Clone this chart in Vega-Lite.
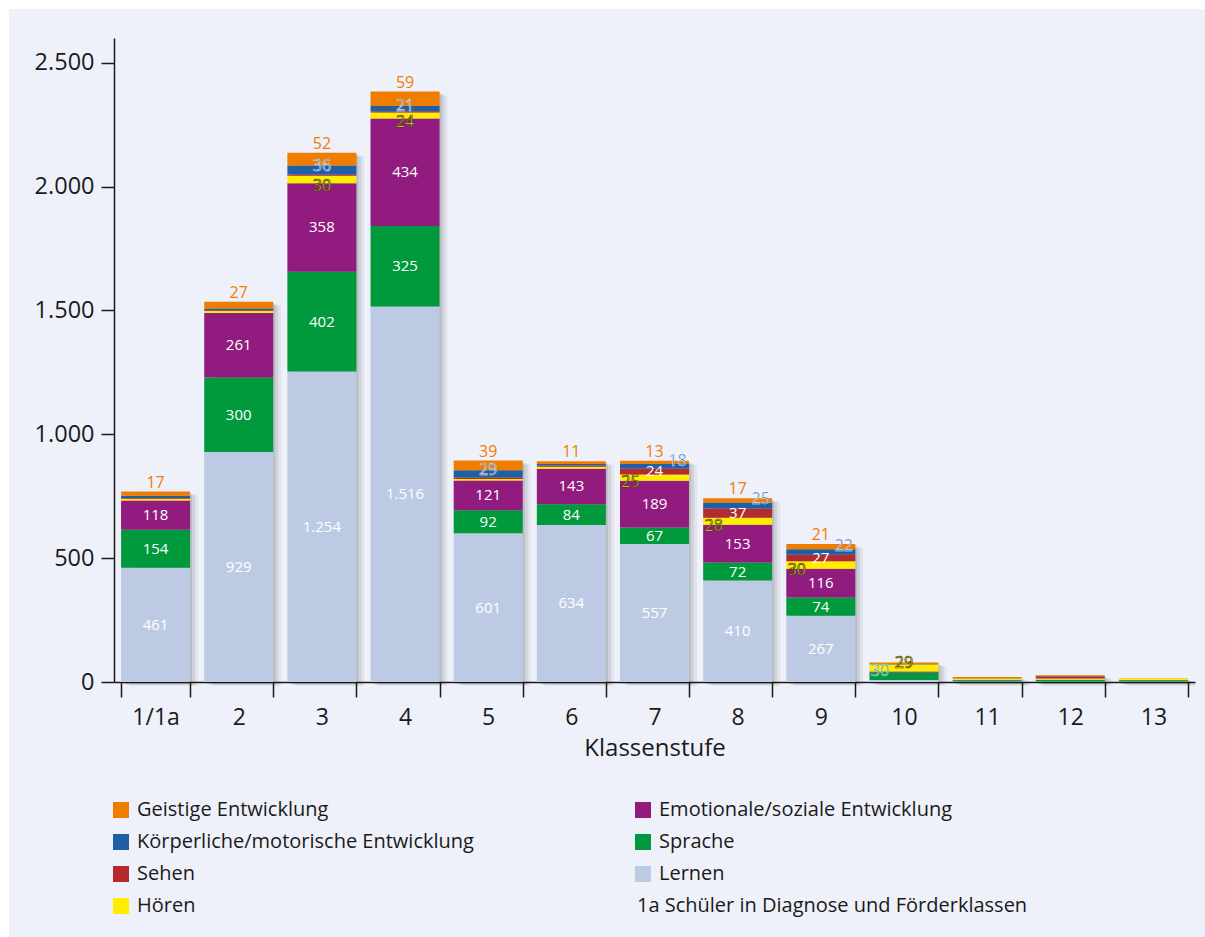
{
  "$schema": "https://vega.github.io/schema/vega-lite/v6.json",
  "width": 1196,
  "height": 928,
  "autosize": {"type": "none"},
  "padding": {"left": 9, "top": 9, "right": 0, "bottom": 0},
  "background": "#ffffff",
  "config": {
    "view": {"fill": "#eef1f9", "stroke": null},
    "font": "Open Sans",
    "locale": {"number": {"decimal": ",", "thousands": ".", "grouping": [3], "currency": ["", " €"]}},
    "axis": {
      "labelFont": "Open Sans",
      "titleFont": "Open Sans",
      "labelColor": "#1a1a1a",
      "titleColor": "#1a1a1a",
      "domainColor": "#1a1a1a",
      "tickColor": "#1a1a1a",
      "domainWidth": 1.5,
      "tickWidth": 1.5,
      "grid": false
    },
    "legend": {"labelFont": "Open Sans", "labelColor": "#1a1a1a"},
    "text": {"font": "Open Sans", "fontSize": 15}
  },
  "data": {
    "values": [
      {"Klassenstufe": "1/1a", "Schwerpunkt": "Lernen", "Anzahl": 461},
      {"Klassenstufe": "1/1a", "Schwerpunkt": "Sprache", "Anzahl": 154},
      {"Klassenstufe": "1/1a", "Schwerpunkt": "Emotionale/soziale Entwicklung", "Anzahl": 118},
      {"Klassenstufe": "1/1a", "Schwerpunkt": "Hören", "Anzahl": 7},
      {"Klassenstufe": "1/1a", "Schwerpunkt": "Sehen", "Anzahl": 3},
      {"Klassenstufe": "1/1a", "Schwerpunkt": "Körperliche/motorische Entwicklung", "Anzahl": 9},
      {"Klassenstufe": "1/1a", "Schwerpunkt": "Geistige Entwicklung", "Anzahl": 17},
      {"Klassenstufe": "2", "Schwerpunkt": "Lernen", "Anzahl": 929},
      {"Klassenstufe": "2", "Schwerpunkt": "Sprache", "Anzahl": 300},
      {"Klassenstufe": "2", "Schwerpunkt": "Emotionale/soziale Entwicklung", "Anzahl": 261},
      {"Klassenstufe": "2", "Schwerpunkt": "Hören", "Anzahl": 8},
      {"Klassenstufe": "2", "Schwerpunkt": "Sehen", "Anzahl": 3},
      {"Klassenstufe": "2", "Schwerpunkt": "Körperliche/motorische Entwicklung", "Anzahl": 7},
      {"Klassenstufe": "2", "Schwerpunkt": "Geistige Entwicklung", "Anzahl": 27},
      {"Klassenstufe": "3", "Schwerpunkt": "Lernen", "Anzahl": 1254},
      {"Klassenstufe": "3", "Schwerpunkt": "Sprache", "Anzahl": 402},
      {"Klassenstufe": "3", "Schwerpunkt": "Emotionale/soziale Entwicklung", "Anzahl": 358},
      {"Klassenstufe": "3", "Schwerpunkt": "Hören", "Anzahl": 30},
      {"Klassenstufe": "3", "Schwerpunkt": "Sehen", "Anzahl": 5},
      {"Klassenstufe": "3", "Schwerpunkt": "Körperliche/motorische Entwicklung", "Anzahl": 36},
      {"Klassenstufe": "3", "Schwerpunkt": "Geistige Entwicklung", "Anzahl": 52},
      {"Klassenstufe": "4", "Schwerpunkt": "Lernen", "Anzahl": 1516},
      {"Klassenstufe": "4", "Schwerpunkt": "Sprache", "Anzahl": 325},
      {"Klassenstufe": "4", "Schwerpunkt": "Emotionale/soziale Entwicklung", "Anzahl": 434},
      {"Klassenstufe": "4", "Schwerpunkt": "Hören", "Anzahl": 24},
      {"Klassenstufe": "4", "Schwerpunkt": "Sehen", "Anzahl": 5},
      {"Klassenstufe": "4", "Schwerpunkt": "Körperliche/motorische Entwicklung", "Anzahl": 21},
      {"Klassenstufe": "4", "Schwerpunkt": "Geistige Entwicklung", "Anzahl": 59},
      {"Klassenstufe": "5", "Schwerpunkt": "Lernen", "Anzahl": 601},
      {"Klassenstufe": "5", "Schwerpunkt": "Sprache", "Anzahl": 92},
      {"Klassenstufe": "5", "Schwerpunkt": "Emotionale/soziale Entwicklung", "Anzahl": 121},
      {"Klassenstufe": "5", "Schwerpunkt": "Hören", "Anzahl": 6},
      {"Klassenstufe": "5", "Schwerpunkt": "Sehen", "Anzahl": 6},
      {"Klassenstufe": "5", "Schwerpunkt": "Körperliche/motorische Entwicklung", "Anzahl": 29},
      {"Klassenstufe": "5", "Schwerpunkt": "Geistige Entwicklung", "Anzahl": 39},
      {"Klassenstufe": "6", "Schwerpunkt": "Lernen", "Anzahl": 634},
      {"Klassenstufe": "6", "Schwerpunkt": "Sprache", "Anzahl": 84},
      {"Klassenstufe": "6", "Schwerpunkt": "Emotionale/soziale Entwicklung", "Anzahl": 143},
      {"Klassenstufe": "6", "Schwerpunkt": "Hören", "Anzahl": 8},
      {"Klassenstufe": "6", "Schwerpunkt": "Sehen", "Anzahl": 5},
      {"Klassenstufe": "6", "Schwerpunkt": "Körperliche/motorische Entwicklung", "Anzahl": 6},
      {"Klassenstufe": "6", "Schwerpunkt": "Geistige Entwicklung", "Anzahl": 11},
      {"Klassenstufe": "7", "Schwerpunkt": "Lernen", "Anzahl": 557},
      {"Klassenstufe": "7", "Schwerpunkt": "Sprache", "Anzahl": 67},
      {"Klassenstufe": "7", "Schwerpunkt": "Emotionale/soziale Entwicklung", "Anzahl": 189},
      {"Klassenstufe": "7", "Schwerpunkt": "Hören", "Anzahl": 25},
      {"Klassenstufe": "7", "Schwerpunkt": "Sehen", "Anzahl": 24},
      {"Klassenstufe": "7", "Schwerpunkt": "Körperliche/motorische Entwicklung", "Anzahl": 18},
      {"Klassenstufe": "7", "Schwerpunkt": "Geistige Entwicklung", "Anzahl": 13},
      {"Klassenstufe": "8", "Schwerpunkt": "Lernen", "Anzahl": 410},
      {"Klassenstufe": "8", "Schwerpunkt": "Sprache", "Anzahl": 72},
      {"Klassenstufe": "8", "Schwerpunkt": "Emotionale/soziale Entwicklung", "Anzahl": 153},
      {"Klassenstufe": "8", "Schwerpunkt": "Hören", "Anzahl": 28},
      {"Klassenstufe": "8", "Schwerpunkt": "Sehen", "Anzahl": 37},
      {"Klassenstufe": "8", "Schwerpunkt": "Körperliche/motorische Entwicklung", "Anzahl": 25},
      {"Klassenstufe": "8", "Schwerpunkt": "Geistige Entwicklung", "Anzahl": 17},
      {"Klassenstufe": "9", "Schwerpunkt": "Lernen", "Anzahl": 267},
      {"Klassenstufe": "9", "Schwerpunkt": "Sprache", "Anzahl": 74},
      {"Klassenstufe": "9", "Schwerpunkt": "Emotionale/soziale Entwicklung", "Anzahl": 116},
      {"Klassenstufe": "9", "Schwerpunkt": "Hören", "Anzahl": 30},
      {"Klassenstufe": "9", "Schwerpunkt": "Sehen", "Anzahl": 27},
      {"Klassenstufe": "9", "Schwerpunkt": "Körperliche/motorische Entwicklung", "Anzahl": 22},
      {"Klassenstufe": "9", "Schwerpunkt": "Geistige Entwicklung", "Anzahl": 21},
      {"Klassenstufe": "10", "Schwerpunkt": "Lernen", "Anzahl": 8},
      {"Klassenstufe": "10", "Schwerpunkt": "Sprache", "Anzahl": 30},
      {"Klassenstufe": "10", "Schwerpunkt": "Emotionale/soziale Entwicklung", "Anzahl": 4},
      {"Klassenstufe": "10", "Schwerpunkt": "Hören", "Anzahl": 29},
      {"Klassenstufe": "10", "Schwerpunkt": "Sehen", "Anzahl": 1},
      {"Klassenstufe": "10", "Schwerpunkt": "Körperliche/motorische Entwicklung", "Anzahl": 1},
      {"Klassenstufe": "10", "Schwerpunkt": "Geistige Entwicklung", "Anzahl": 6},
      {"Klassenstufe": "11", "Schwerpunkt": "Lernen", "Anzahl": 2},
      {"Klassenstufe": "11", "Schwerpunkt": "Sprache", "Anzahl": 5},
      {"Klassenstufe": "11", "Schwerpunkt": "Emotionale/soziale Entwicklung", "Anzahl": 1},
      {"Klassenstufe": "11", "Schwerpunkt": "Hören", "Anzahl": 6},
      {"Klassenstufe": "11", "Schwerpunkt": "Sehen", "Anzahl": 1},
      {"Klassenstufe": "11", "Schwerpunkt": "Körperliche/motorische Entwicklung", "Anzahl": 1},
      {"Klassenstufe": "11", "Schwerpunkt": "Geistige Entwicklung", "Anzahl": 4},
      {"Klassenstufe": "12", "Schwerpunkt": "Lernen", "Anzahl": 2},
      {"Klassenstufe": "12", "Schwerpunkt": "Sprache", "Anzahl": 6},
      {"Klassenstufe": "12", "Schwerpunkt": "Emotionale/soziale Entwicklung", "Anzahl": 1},
      {"Klassenstufe": "12", "Schwerpunkt": "Hören", "Anzahl": 5},
      {"Klassenstufe": "12", "Schwerpunkt": "Sehen", "Anzahl": 9},
      {"Klassenstufe": "12", "Schwerpunkt": "Körperliche/motorische Entwicklung", "Anzahl": 1},
      {"Klassenstufe": "12", "Schwerpunkt": "Geistige Entwicklung", "Anzahl": 3},
      {"Klassenstufe": "13", "Schwerpunkt": "Lernen", "Anzahl": 2},
      {"Klassenstufe": "13", "Schwerpunkt": "Sprache", "Anzahl": 5},
      {"Klassenstufe": "13", "Schwerpunkt": "Emotionale/soziale Entwicklung", "Anzahl": 1},
      {"Klassenstufe": "13", "Schwerpunkt": "Hören", "Anzahl": 7},
      {"Klassenstufe": "13", "Schwerpunkt": "Sehen", "Anzahl": 0},
      {"Klassenstufe": "13", "Schwerpunkt": "Körperliche/motorische Entwicklung", "Anzahl": 0},
      {"Klassenstufe": "13", "Schwerpunkt": "Geistige Entwicklung", "Anzahl": 1}
    ]
  },
  "transform": [
    {"calculate": "indexof(['Lernen', 'Sprache', 'Emotionale/soziale Entwicklung', 'Hören', 'Sehen', 'Körperliche/motorische Entwicklung', 'Geistige Entwicklung'], datum.Schwerpunkt)", "as": "Rang"},
    {"stack": "Anzahl", "groupby": ["Klassenstufe"], "sort": [{"field": "Rang", "order": "ascending"}], "as": ["unten", "oben"]},
    {"calculate": "(datum.unten + datum.oben) / 2", "as": "Mitte"}
  ],
  "encoding": {
    "x": {
      "field": "Klassenstufe",
      "type": "ordinal",
      "sort": ["1/1a", "2", "3", "4", "5", "6", "7", "8", "9", "10", "11", "12", "13"],
      "scale": {"range": [105, 1186], "paddingInner": 0.17, "paddingOuter": 0.085},
      "axis": {
        "offset": -255,
        "tickBand": "extent",
        "tickSize": 15,
        "labelAngle": 0,
        "labelFontSize": 23,
        "labelPadding": 9,
        "title": "Klassenstufe",
        "titleFontSize": 24,
        "titleFontWeight": "normal",
        "titlePadding": 7
      }
    }
  },
  "layer": [
    {
      "transform": [{"aggregate": [{"op": "sum", "field": "Anzahl", "as": "Summe"}], "groupby": ["Klassenstufe"]}],
      "mark": {"type": "bar", "color": "#000000", "opacity": 0.05, "xOffset": 8, "yOffset": 4},
      "encoding": {
        "y": {
          "field": "Summe",
          "type": "quantitative",
          "title": null,
          "scale": {"domain": [0, 2600], "range": [673, 29], "nice": false},
          "axis": {
            "offset": -105,
            "values": [0, 500, 1000, 1500, 2000, 2500],
            "format": ",d",
            "tickSize": 13,
            "labelFontSize": 23.5,
            "labelPadding": 7,
            "title": null
          }
        }
      }
    },
    {
      "transform": [{"aggregate": [{"op": "sum", "field": "Anzahl", "as": "Summe"}], "groupby": ["Klassenstufe"]}],
      "mark": {"type": "bar", "color": "#000000", "opacity": 0.08, "xOffset": 5, "yOffset": 3},
      "encoding": {"y": {"field": "Summe", "type": "quantitative", "title": null}}
    },
    {
      "transform": [{"aggregate": [{"op": "sum", "field": "Anzahl", "as": "Summe"}], "groupby": ["Klassenstufe"]}],
      "mark": {"type": "bar", "color": "#000000", "opacity": 0.1, "xOffset": 2, "yOffset": 2},
      "encoding": {"y": {"field": "Summe", "type": "quantitative", "title": null}}
    },
    {
      "mark": {"type": "bar"},
      "encoding": {
        "y": {"field": "unten", "type": "quantitative", "title": null},
        "y2": {"field": "oben"},
        "color": {
          "field": "Schwerpunkt",
          "type": "nominal",
          "scale": {
            "domain": ["Geistige Entwicklung", "Körperliche/motorische Entwicklung", "Sehen", "Hören", "Emotionale/soziale Entwicklung", "Sprache", "Lernen"],
            "range": ["#f07d00", "#1f5fa6", "#b52a30", "#ffed00", "#921b7f", "#009a3d", "#bccbe3"]
          },
          "legend": {
            "orient": "none",
            "legendX": 102,
            "legendY": 791,
            "columns": 2,
            "title": null,
            "symbolType": "square",
            "symbolSize": 256,
            "symbolStrokeWidth": 0,
            "symbolOpacity": 1,
            "labelFontSize": 20,
            "labelOffset": 6,
            "labelLimit": 600,
            "rowPadding": 12,
            "columnPadding": 159,
            "padding": 0
          }
        },
        "opacity": {
          "datum": "1a Schüler in Diagnose und Förderklassen",
          "type": "ordinal",
          "scale": {"range": [1]},
          "legend": {
            "orient": "none",
            "legendX": 608,
            "legendY": 887,
            "title": null,
            "symbolSize": 0,
            "symbolOpacity": 0,
            "symbolStrokeWidth": 0,
            "labelOffset": 0,
            "labelFontSize": 20,
            "labelLimit": 600,
            "padding": 0
          }
        }
      }
    },
    {
      "transform": [{"filter": "datum.Anzahl >= 10 && datum.Klassenstufe != '10' && indexof(['Lernen', 'Sprache', 'Emotionale/soziale Entwicklung', 'Sehen'], datum.Schwerpunkt) >= 0"}],
      "mark": {"type": "text", "color": "#ffffff", "baseline": "middle"},
      "encoding": {
        "y": {"field": "Mitte", "type": "quantitative", "title": null},
        "text": {"field": "Anzahl", "type": "quantitative", "format": ",d"}
      }
    },
    {
      "transform": [{"filter": "datum.Anzahl >= 10 && datum.Schwerpunkt == 'Geistige Entwicklung'"}],
      "mark": {"type": "text", "color": "#f07d00", "baseline": "middle", "dy": -9, "fontSize": 16},
      "encoding": {
        "y": {"field": "oben", "type": "quantitative", "title": null},
        "text": {"field": "Anzahl", "type": "quantitative", "format": ",d"}
      }
    },
    {
      "transform": [{"filter": "datum.Anzahl >= 10 && datum.Schwerpunkt == 'Körperliche/motorische Entwicklung' && indexof(['3', '4', '5'], datum.Klassenstufe) >= 0"}],
      "mark": {"type": "text", "color": "#3a78c0", "stroke": "#ffffff", "strokeWidth": 0.4, "baseline": "middle", "dy": 0, "fontSize": 16},
      "encoding": {
        "y": {"field": "oben", "type": "quantitative", "title": null},
        "text": {"field": "Anzahl", "type": "quantitative", "format": ",d"}
      }
    },
    {
      "transform": [{"filter": "datum.Anzahl >= 10 && datum.Schwerpunkt == 'Körperliche/motorische Entwicklung' && indexof(['7', '8', '9'], datum.Klassenstufe) >= 0"}],
      "mark": {"type": "text", "color": "#2a66ad", "stroke": "#ffffff", "strokeWidth": 0.4, "baseline": "middle", "dx": 23, "dy": -3, "fontSize": 16},
      "encoding": {
        "y": {"field": "oben", "type": "quantitative", "title": null},
        "text": {"field": "Anzahl", "type": "quantitative", "format": ",d"}
      }
    },
    {
      "transform": [{"filter": "datum.Anzahl >= 10 && datum.Schwerpunkt == 'Hören' && indexof(['3', '4'], datum.Klassenstufe) >= 0"}],
      "mark": {"type": "text", "color": "#ffed00", "stroke": "#2a2a18", "strokeWidth": 0.6, "baseline": "middle", "dy": 3, "fontSize": 16},
      "encoding": {
        "y": {"field": "unten", "type": "quantitative", "title": null},
        "text": {"field": "Anzahl", "type": "quantitative", "format": ",d"}
      }
    },
    {
      "transform": [{"filter": "datum.Anzahl >= 10 && datum.Schwerpunkt == 'Hören' && indexof(['7', '8', '9'], datum.Klassenstufe) >= 0"}],
      "mark": {"type": "text", "color": "#ffed00", "stroke": "#2a2a18", "strokeWidth": 0.6, "baseline": "middle", "dx": -24, "dy": 1, "fontSize": 16},
      "encoding": {
        "y": {"field": "unten", "type": "quantitative", "title": null},
        "text": {"field": "Anzahl", "type": "quantitative", "format": ",d"}
      }
    },
    {
      "transform": [{"filter": "datum.Klassenstufe == '10' && datum.Schwerpunkt == 'Hören'"}],
      "mark": {"type": "text", "color": "#ffed00", "stroke": "#2a2a18", "strokeWidth": 0.6, "baseline": "middle", "dy": -1, "fontSize": 16},
      "encoding": {
        "y": {"field": "oben", "type": "quantitative", "title": null},
        "text": {"field": "Anzahl", "type": "quantitative", "format": ",d"}
      }
    },
    {
      "transform": [{"filter": "datum.Klassenstufe == '10' && datum.Schwerpunkt == 'Sprache'"}],
      "mark": {"type": "text", "color": "#2aa566", "stroke": "#e6f3ec", "strokeWidth": 0.4, "baseline": "middle", "dx": -24, "dy": -5, "fontSize": 16},
      "encoding": {
        "y": {"field": "Mitte", "type": "quantitative", "title": null},
        "text": {"field": "Anzahl", "type": "quantitative", "format": ",d"}
      }
    }
  ]
}
